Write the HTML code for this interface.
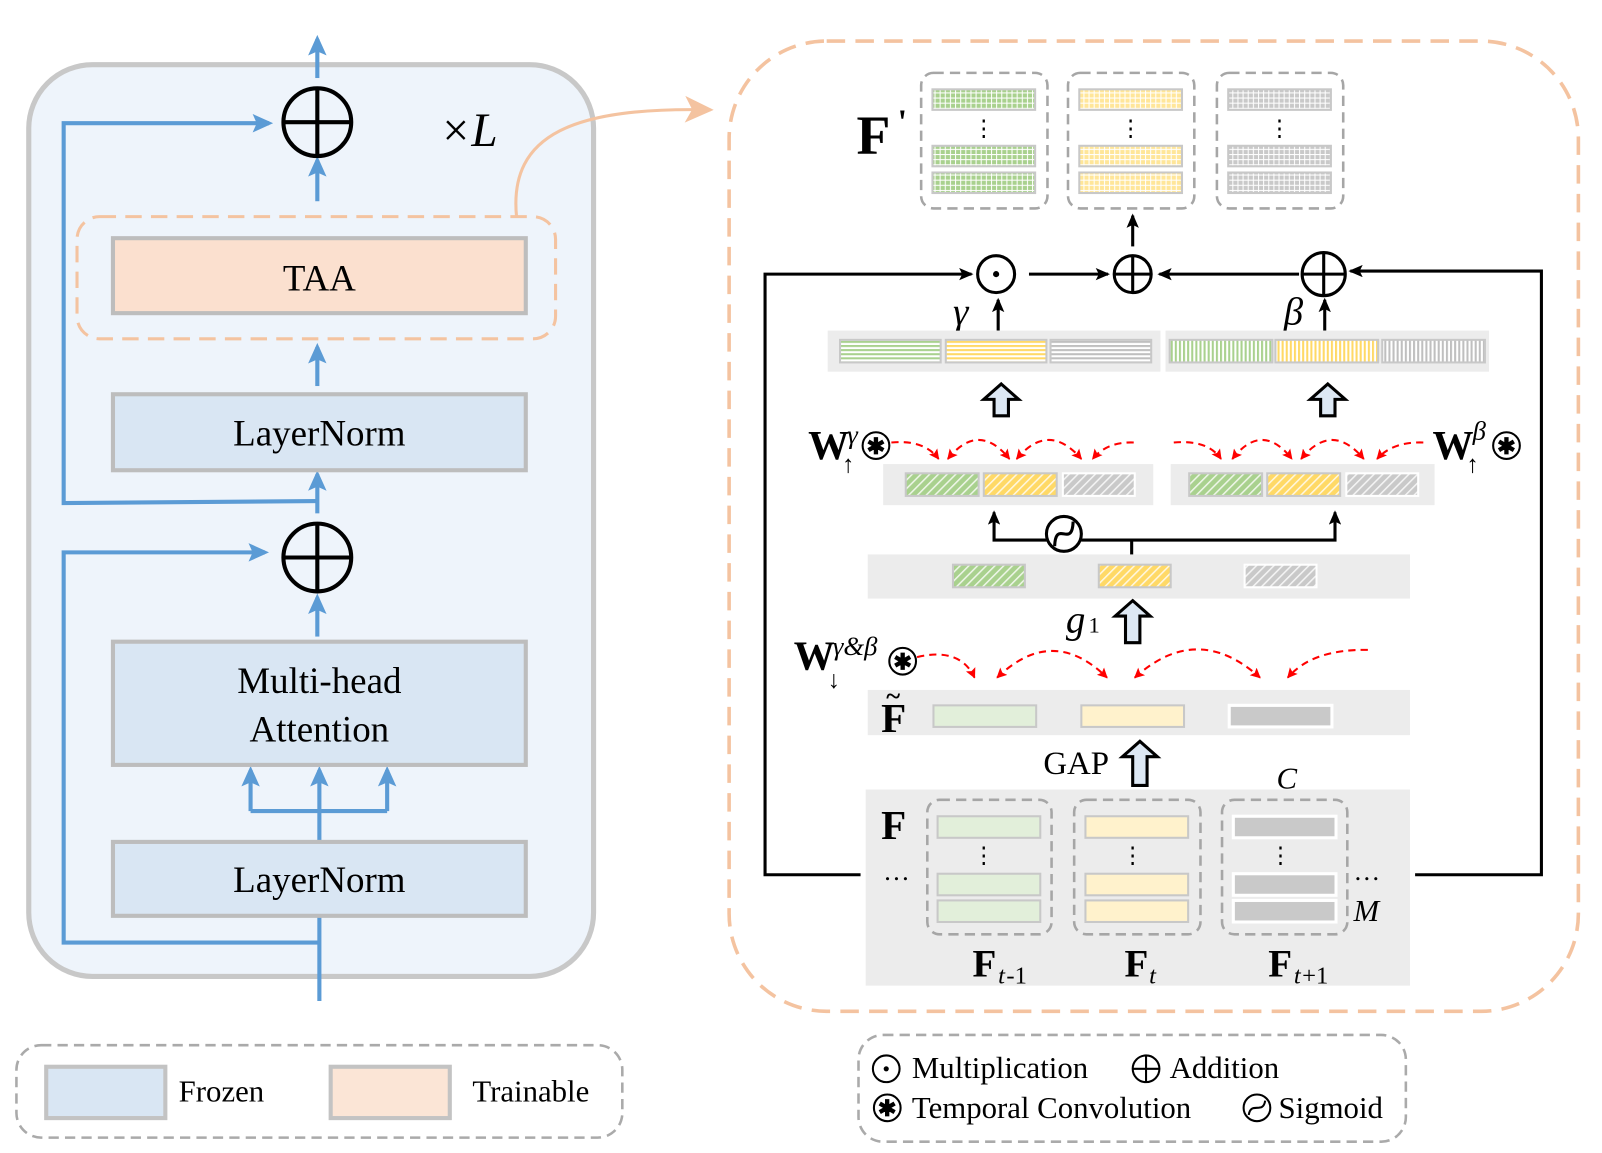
<!DOCTYPE html>
<html><head><meta charset="utf-8"><style>
html,body{margin:0;padding:0;background:#fff;}
svg{display:block;}
text{font-family:"Liberation Serif",serif;}
</style></head><body>
<svg width="1602" height="1153" viewBox="0 0 1560 1123" preserveAspectRatio="none" xmlns="http://www.w3.org/2000/svg">
<defs>
<marker id="ab" markerWidth="20" markerHeight="18" refX="16" refY="9" orient="auto" markerUnits="userSpaceOnUse"><path d="M0,0 L20,9 L0,18 L4,9 Z" fill="#5b9bd5"/></marker>
<marker id="ak" markerWidth="14" markerHeight="12" refX="12" refY="6" orient="auto" markerUnits="userSpaceOnUse"><path d="M0,0 L14,6 L0,12 L3,6 Z" fill="#000"/></marker>
<marker id="ar" markerWidth="10" markerHeight="10" refX="9" refY="5" orient="auto-start-reverse" markerUnits="userSpaceOnUse"><path d="M0,0 L10,5 L0,10 L2,5 Z" fill="#f00"/></marker>
<marker id="ao" markerWidth="30" markerHeight="30" refX="25" refY="15" orient="auto" markerUnits="userSpaceOnUse"><path d="M0,2 L28,15 L0,28 L7,15 Z" fill="#f4c3a0"/></marker>
<pattern id="hg" width="6" height="6" patternUnits="userSpaceOnUse" patternTransform="rotate(45)"><rect width="6" height="6" fill="#a9d18e"/><rect width="1.5" height="6" fill="#fff" opacity=".8"/></pattern>
<pattern id="hy" width="6" height="6" patternUnits="userSpaceOnUse" patternTransform="rotate(45)"><rect width="6" height="6" fill="#ffd966"/><rect width="1.5" height="6" fill="#fff" opacity=".8"/></pattern>
<pattern id="hs" width="6" height="6" patternUnits="userSpaceOnUse" patternTransform="rotate(45)"><rect width="6" height="6" fill="#c9c9c9"/><rect width="1.5" height="6" fill="#fff" opacity=".8"/></pattern>
<pattern id="sg" width="4" height="4" patternUnits="userSpaceOnUse"><rect width="4" height="4" fill="#fff"/><rect width="4" height="2" fill="#a9d18e"/></pattern>
<pattern id="sy" width="4" height="4" patternUnits="userSpaceOnUse"><rect width="4" height="4" fill="#fff"/><rect width="4" height="2" fill="#ffd966"/></pattern>
<pattern id="ss" width="4" height="4" patternUnits="userSpaceOnUse"><rect width="4" height="4" fill="#fff"/><rect width="4" height="2" fill="#bfbfbf"/></pattern>
<pattern id="vg" width="4" height="4" patternUnits="userSpaceOnUse"><rect width="4" height="4" fill="#fff"/><rect width="2" height="4" fill="#a9d18e"/></pattern>
<pattern id="vy" width="4" height="4" patternUnits="userSpaceOnUse"><rect width="4" height="4" fill="#fff"/><rect width="2" height="4" fill="#ffd966"/></pattern>
<pattern id="vs" width="4" height="4" patternUnits="userSpaceOnUse"><rect width="4" height="4" fill="#fff"/><rect width="2" height="4" fill="#bfbfbf"/></pattern>
<pattern id="gg" width="5" height="5" patternUnits="userSpaceOnUse"><rect width="5" height="5" fill="#a9d18e"/><rect width="1" height="5" fill="#fff"/><rect width="5" height="1" fill="#fff"/></pattern>
<pattern id="gy" width="5" height="5" patternUnits="userSpaceOnUse"><rect width="5" height="5" fill="#ffe699"/><rect width="1" height="5" fill="#fff"/><rect width="5" height="1" fill="#fff"/></pattern>
<pattern id="gs" width="5" height="5" patternUnits="userSpaceOnUse"><rect width="5" height="5" fill="#c9c9c9"/><rect width="1" height="5" fill="#fff"/><rect width="5" height="1" fill="#fff"/></pattern>
</defs>

<!-- LEFT PANEL -->
<rect x="28" y="63" width="550" height="888" rx="62" fill="#eef4fb" stroke="#c8c8c8" stroke-width="5"/>
<g stroke="#5b9bd5" stroke-width="4" fill="none">
<line x1="309" y1="76" x2="309" y2="38" marker-end="url(#ab)"/>
<line x1="309" y1="196" x2="309" y2="156" marker-end="url(#ab)"/>
<polyline points="309,488 62,490 62,120 262,120" marker-end="url(#ab)"/>
<line x1="309" y1="500" x2="309" y2="462" marker-end="url(#ab)"/>
<line x1="309" y1="376" x2="309" y2="338" marker-end="url(#ab)"/>
<line x1="309" y1="620" x2="309" y2="582" marker-end="url(#ab)"/>
<polyline points="311,918 62,918 62,538 258,538" marker-end="url(#ab)"/>
<line x1="311" y1="975" x2="311" y2="750" marker-end="url(#ab)"/>
<polyline points="244,790 244,750" marker-end="url(#ab)"/>
<polyline points="377,790 377,750" marker-end="url(#ab)"/>
<line x1="244" y1="790" x2="377" y2="790"/>
</g>
<g stroke="#000" stroke-width="4" fill="none">
<circle cx="309" cy="119" r="33"/><line x1="276" y1="119" x2="342" y2="119"/><line x1="309" y1="86" x2="309" y2="152"/>
<circle cx="309" cy="543" r="33"/><line x1="276" y1="543" x2="342" y2="543"/><line x1="309" y1="510" x2="309" y2="576"/>
</g>
<text x="428" y="142" font-size="46" font-style="italic">×L</text>
<rect x="75" y="211" width="466" height="119" rx="22" fill="none" stroke="#f4c3a0" stroke-width="3" stroke-dasharray="16 9"/>
<rect x="110" y="232" width="402" height="73" fill="#fbe0cf" stroke="#bdbdbd" stroke-width="4"/>
<text x="311" y="283" font-size="36" text-anchor="middle">TAA</text>
<rect x="110" y="384" width="402" height="74" fill="#d9e6f3" stroke="#bdbdbd" stroke-width="4"/>
<text x="311" y="434" font-size="36" text-anchor="middle">LayerNorm</text>
<rect x="110" y="625" width="402" height="120" fill="#d9e6f3" stroke="#bdbdbd" stroke-width="4"/>
<text x="311" y="675" font-size="36" text-anchor="middle">Multi-head</text>
<text x="311" y="722" font-size="36" text-anchor="middle">Attention</text>
<rect x="110" y="820" width="402" height="72" fill="#d9e6f3" stroke="#bdbdbd" stroke-width="4"/>
<text x="311" y="869" font-size="36" text-anchor="middle">LayerNorm</text>

<path d="M503,211 C495,130 560,104 692,107" fill="none" stroke="#f4c3a0" stroke-width="3" marker-end="url(#ao)"/>

<!-- left legend -->
<rect x="16" y="1018" width="590" height="90" rx="24" fill="none" stroke="#aaa" stroke-width="2.5" stroke-dasharray="10 6"/>
<rect x="45" y="1039" width="116" height="50" fill="#d9e6f3" stroke="#c3c3c3" stroke-width="4"/>
<text x="174" y="1073" font-size="30">Frozen</text>
<rect x="322" y="1039" width="116" height="50" fill="#fbe5d6" stroke="#c3c3c3" stroke-width="4"/>
<text x="460" y="1073" font-size="30">Trainable</text>

<!-- RIGHT PANEL -->
<rect x="710" y="40" width="827" height="945" rx="95" fill="none" stroke="#f4c3a0" stroke-width="3.5" stroke-dasharray="18 10"/>

<!-- F' -->
<text x="834" y="150" font-size="54" font-weight="bold">F</text><text x="874" y="130" font-size="34" font-weight="bold">'</text>
<g fill="none" stroke="#a6a6a6" stroke-width="2.5" stroke-dasharray="10 6">
<rect x="897" y="71" width="123" height="132" rx="12"/>
<rect x="1040" y="71" width="123" height="132" rx="12"/>
<rect x="1185" y="71" width="123" height="132" rx="12"/>
</g>
<g stroke="#c8c8c8" stroke-width="2">
<rect x="908" y="87" width="100" height="20" fill="url(#gg)"/><rect x="908" y="142" width="100" height="20" fill="url(#gg)"/><rect x="908" y="168" width="100" height="20" fill="url(#gg)"/>
<rect x="1051" y="87" width="100" height="20" fill="url(#gy)"/><rect x="1051" y="142" width="100" height="20" fill="url(#gy)"/><rect x="1051" y="168" width="100" height="20" fill="url(#gy)"/>
<rect x="1196" y="87" width="100" height="20" fill="url(#gs)"/><rect x="1196" y="142" width="100" height="20" fill="url(#gs)"/><rect x="1196" y="168" width="100" height="20" fill="url(#gs)"/>
</g>
<g font-size="22" text-anchor="middle"><text x="958" y="132">⋮</text><text x="1101" y="132">⋮</text><text x="1246" y="132">⋮</text></g>

<!-- ops row -->
<g stroke="#000" stroke-width="3" fill="none">
<circle cx="970" cy="267" r="18"/>
<circle cx="1103" cy="267" r="18"/><line x1="1085" y1="267" x2="1121" y2="267"/><line x1="1103" y1="249" x2="1103" y2="285"/>
<circle cx="1289" cy="267" r="21"/><line x1="1268" y1="267" x2="1310" y2="267"/><line x1="1289" y1="246" x2="1289" y2="288"/>
<polyline points="838,852 745,852 745,267 946,267" marker-end="url(#ak)"/>
<line x1="1002" y1="267" x2="1079" y2="267" marker-end="url(#ak)"/>
<line x1="1265" y1="267" x2="1129" y2="267" marker-end="url(#ak)"/>
<polyline points="1378,852 1501,852 1501,264 1315,264" marker-end="url(#ak)"/>
<line x1="1103" y1="240" x2="1103" y2="210" marker-end="url(#ak)"/>
<line x1="972" y1="322" x2="972" y2="292" marker-end="url(#ak)"/>
<line x1="1290" y1="322" x2="1290" y2="292" marker-end="url(#ak)"/>
</g>
<circle cx="970" cy="267" r="3" fill="#000"/>
<text x="928" y="316" font-size="38" font-style="italic">γ</text>
<text x="1250" y="316" font-size="38" font-style="italic">β</text>

<!-- gamma/beta bars -->
<rect x="806" y="322" width="324" height="40" fill="#ececec"/>
<rect x="1135" y="322" width="315" height="40" fill="#ececec"/>
<g stroke="#c8c8c8" stroke-width="2">
<rect x="818" y="331" width="98" height="22" fill="url(#sg)"/><rect x="921" y="331" width="98" height="22" fill="url(#sy)"/><rect x="1023" y="331" width="98" height="22" fill="url(#ss)"/>
<rect x="1139" y="331" width="100" height="22" fill="url(#vg)"/><rect x="1242" y="331" width="100" height="22" fill="url(#vy)"/><rect x="1346" y="331" width="100" height="22" fill="url(#vs)"/>
</g>
<g fill="#dde8f4" stroke="#000" stroke-width="3" stroke-linejoin="miter">
<polygon points="975,374 992,389 982,389 982,405 968,405 968,389 958,389"/>
<polygon points="1293,374 1310,389 1300,389 1300,405 1286,405 1286,389 1276,389"/>
<polygon points="1103,585 1120,600 1110,600 1110,626 1096,626 1096,600 1086,600"/>
<polygon points="1110,722 1127,737 1117,737 1117,765 1103,765 1103,737 1093,737"/>
</g>

<!-- W up gamma / beta -->
<text x="787" y="447" font-size="40" font-weight="bold">W</text>
<text x="825" y="432" font-size="26" font-style="italic">γ</text>
<text x="820" y="460" font-size="24">↑</text>
<text x="1395" y="447" font-size="40" font-weight="bold">W</text>
<text x="1434" y="428" font-size="26" font-style="italic">β</text>
<text x="1428" y="460" font-size="24">↑</text>
<g stroke="#000" stroke-width="2" fill="none">
<circle cx="853" cy="434" r="13"/><circle cx="1467" cy="434" r="13"/><circle cx="879" cy="644" r="13"/>
<circle cx="863" cy="1041" r="13"/><circle cx="1116" cy="1041" r="13"/><line x1="1103" y1="1041" x2="1129" y2="1041"/><line x1="1116" y1="1028" x2="1116" y2="1054"/>
<circle cx="864" cy="1079" r="13"/><circle cx="1224" cy="1079" r="13"/>
<path d="M1216,1086 C1218,1072 1230,1086 1232,1072"/>
</g>
<circle cx="863" cy="1041" r="2.5" fill="#000"/>
<g font-size="22" font-weight="bold" text-anchor="middle"><text x="853" y="442">✱</text><text x="1467" y="442">✱</text><text x="879" y="652">✱</text><text x="864" y="1087">✱</text></g>

<!-- red arcs -->
<g stroke="#f00" stroke-width="2" fill="none" stroke-dasharray="7 5">
<path d="M868,431 Q900,428 914,447" marker-end="url(#ar)"/>
<path d="M923,447 Q953,410 983,447" marker-start="url(#ar)" marker-end="url(#ar)"/>
<path d="M990,447 Q1021,410 1053,447" marker-start="url(#ar)" marker-end="url(#ar)"/>
<path d="M1104,431 Q1078,430 1064,447" marker-end="url(#ar)"/>
<path d="M1143,431 Q1176,428 1189,447" marker-end="url(#ar)"/>
<path d="M1200,447 Q1229,410 1258,447" marker-start="url(#ar)" marker-end="url(#ar)"/>
<path d="M1267,447 Q1297,410 1328,447" marker-start="url(#ar)" marker-end="url(#ar)"/>
<path d="M1386,431 Q1356,430 1341,447" marker-end="url(#ar)"/>
<path d="M893,640 Q935,630 949,660" marker-end="url(#ar)"/>
<path d="M971,660 Q1025,608 1078,660" marker-start="url(#ar)" marker-end="url(#ar)"/>
<path d="M1105,660 Q1166,605 1227,660" marker-start="url(#ar)" marker-end="url(#ar)"/>
<path d="M1332,633 Q1278,632 1254,660" marker-end="url(#ar)"/>
</g>

<!-- middle hatched rows -->
<rect x="860" y="452" width="263" height="40" fill="#ececec"/>
<rect x="1140" y="452" width="257" height="40" fill="#ececec"/>
<g stroke="#c8c8c8" stroke-width="2">
<rect x="882" y="461" width="71" height="22" fill="url(#hg)"/><rect x="958" y="461" width="71" height="22" fill="url(#hy)"/><rect x="1035" y="461" width="70" height="22" fill="url(#hs)" stroke="#fff"/>
<rect x="1158" y="461" width="71" height="22" fill="url(#hg)"/><rect x="1234" y="461" width="71" height="22" fill="url(#hy)"/><rect x="1311" y="461" width="70" height="22" fill="url(#hs)" stroke="#fff"/>
</g>
<rect x="845" y="540" width="528" height="43" fill="#ececec"/>
<g stroke="#c8c8c8" stroke-width="2">
<rect x="928" y="550" width="70" height="22" fill="url(#hg)"/><rect x="1070" y="550" width="70" height="22" fill="url(#hy)"/><rect x="1212" y="550" width="70" height="22" fill="url(#hs)" stroke="#fff"/>
</g>
<g stroke="#000" stroke-width="3" fill="none">
<polyline points="1019,526 968,526 968,499" marker-end="url(#ak)"/>
<polyline points="1053,526 1300,526 1300,499" marker-end="url(#ak)"/>
<line x1="1102" y1="526" x2="1102" y2="540"/>
<circle cx="1036" cy="520" r="17"/>
<path d="M1027,532 C1028,505 1044,535 1045,508"/>
</g>
<text x="1038" y="616" font-size="38" font-style="italic">g</text><text x="1060" y="616" font-size="22">1</text>

<!-- W down -->
<text x="773" y="652" font-size="40" font-weight="bold">W</text>
<text x="811" y="638" font-size="26" font-style="italic">γ&amp;β</text>
<text x="806" y="670" font-size="24">↓</text>

<!-- F tilde row -->
<rect x="845" y="672" width="528" height="44" fill="#ececec"/>
<text x="858" y="713" font-size="40" font-weight="bold">F</text><text x="863" y="686" font-size="26" font-weight="bold">~</text>
<rect x="909" y="687" width="100" height="21" fill="#e2efda" stroke="#c8c8c8" stroke-width="2"/>
<rect x="1053" y="687" width="100" height="21" fill="#fff2cc" stroke="#c8c8c8" stroke-width="2"/>
<rect x="1197" y="687" width="100" height="21" fill="#c9c9c9" stroke="#fff" stroke-width="3"/>
<text x="1016" y="754" font-size="32">GAP</text>
<text x="1243" y="768" font-size="30" font-style="italic">C</text>

<!-- bottom F -->
<rect x="843" y="769" width="530" height="191" fill="#ececec"/>
<text x="858" y="817" font-size="40" font-weight="bold">F</text>
<g fill="none" stroke="#a6a6a6" stroke-width="2.5" stroke-dasharray="10 6">
<rect x="903" y="779" width="121" height="131" rx="12"/>
<rect x="1046" y="779" width="123" height="131" rx="12"/>
<rect x="1190" y="779" width="122" height="131" rx="12"/>
</g>
<g stroke="#c8c8c8" stroke-width="2">
<rect x="913" y="795" width="100" height="21" fill="#e2efda"/><rect x="913" y="851" width="100" height="21" fill="#e2efda"/><rect x="913" y="877" width="100" height="21" fill="#e2efda"/>
<rect x="1057" y="795" width="100" height="21" fill="#fff2cc"/><rect x="1057" y="851" width="100" height="21" fill="#fff2cc"/><rect x="1057" y="877" width="100" height="21" fill="#fff2cc"/>
</g>
<g stroke="#fff" stroke-width="3" fill="#c9c9c9">
<rect x="1201" y="795" width="100" height="21"/><rect x="1201" y="851" width="100" height="21"/><rect x="1201" y="877" width="100" height="21"/>
</g>
<g font-size="22" text-anchor="middle"><text x="958" y="840">⋮</text><text x="1103" y="840">⋮</text><text x="1247" y="840">⋮</text></g>
<text x="860" y="857" font-size="26">…</text>
<text x="1318" y="857" font-size="26">…</text>
<text x="1318" y="897" font-size="30" font-style="italic">M</text>
<text x="947" y="951" font-size="38" font-weight="bold">F</text><text x="972" y="958" font-size="24" font-style="italic">t</text><text x="980" y="958" font-size="24">-1</text>
<text x="1095" y="951" font-size="38" font-weight="bold">F</text><text x="1119" y="958" font-size="24" font-style="italic">t</text>
<text x="1235" y="951" font-size="38" font-weight="bold">F</text><text x="1260" y="958" font-size="24" font-style="italic">t</text><text x="1268" y="958" font-size="24">+1</text>

<!-- right legend -->
<rect x="836" y="1008" width="533" height="104" rx="24" fill="none" stroke="#aaa" stroke-width="2.5" stroke-dasharray="10 6"/>
<text x="888" y="1050" font-size="30">Multiplication</text>
<text x="1139" y="1050" font-size="30">Addition</text>
<text x="888" y="1089" font-size="30">Temporal Convolution</text>
<text x="1245" y="1089" font-size="30">Sigmoid</text>
</svg>
</body></html>
